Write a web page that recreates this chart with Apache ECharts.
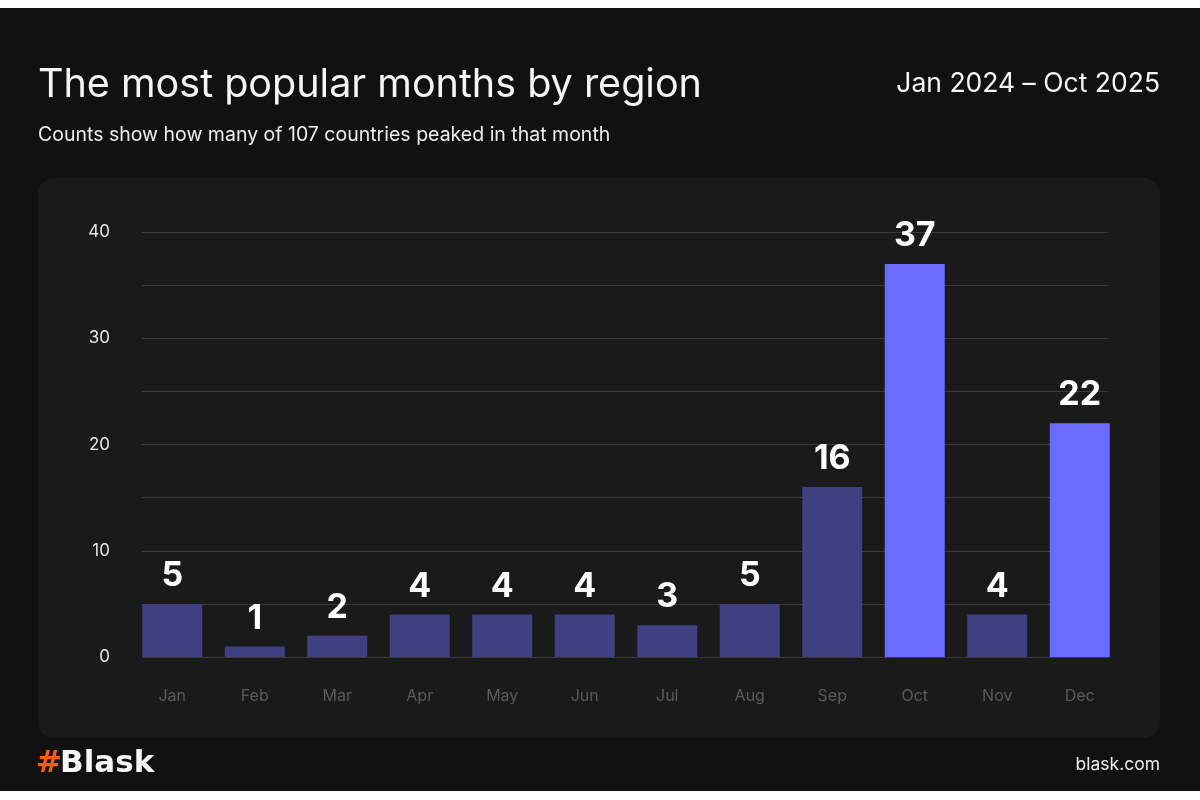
<!DOCTYPE html>
<html><head><meta charset="utf-8">
<script src="https://cdn.jsdelivr.net/npm/echarts@6/dist/echarts.min.js"></script>
<style>html,body{margin:0;padding:0;background:#fff;}#c{width:1200px;height:800px;}</style>
</head><body><div id="c"></div>
<script>
const months = ['Jan','Feb','Mar','Apr','May','Jun','Jul','Aug','Sep','Oct','Nov','Dec'];
const counts = [5,1,2,4,4,4,3,5,16,37,4,22];
const highlighted = ['Oct','Dec'];
const yTicks = [0,10,20,30,40];

const chart = echarts.init(document.getElementById('c'));
const font = 'Inter, "Noto Sans", sans-serif';
chart.setOption({
  backgroundColor: '#ffffff',
  textStyle: {fontFamily: font},
  graphic: [
    {type:'rect', z:-10, shape:{x:0,y:8,width:1200,height:783}, style:{fill:'#111111'}},
    {type:'rect', z:-9, shape:{x:38,y:178,width:1122,height:560,r:16}, style:{fill:'#1a1a1a'}},
    {type:'text', left:38, top:65, style:{text:'The most popular months by region', fill:'#f5f5f5', fontSize:39.5, fontFamily:font, letterSpacing:-0.4}},
    {type:'text', left:38, top:125, style:{text:'Counts show how many of 107 countries peaked in that month', fill:'#eeeeee', fontSize:19.5, fontFamily:font, letterSpacing:-0.2}},
    {type:'text', right:40, top:71, style:{text:'Jan 2024 – Oct 2025', fill:'#f5f5f5', fontSize:26.5, fontFamily:font, letterSpacing:-0.5, textAlign:'right'}},
    {type:'text', left:36, top:748, style:{text:'#', fill:'#ff5c0a', fontSize:31, fontWeight:'bold', fontFamily:'"DejaVu Sans", sans-serif'}},
    {type:'text', left:60, top:748, style:{text:'Blask', fill:'#f5f5f5', fontSize:31, fontWeight:'bold', fontFamily:'"DejaVu Sans", sans-serif', letterSpacing:0.5}},
    {type:'text', right:40, top:756, style:{text:'blask.com', fill:'#eeeeee', fontSize:17.5, fontFamily:font, textAlign:'right'}}
  ],
  grid: [
    {left:131, right:79, top:232, bottom:143},
    {left:142, right:92, top:232, bottom:143}
  ],
  xAxis: [
    {type:'category', data: months, gridIndex:0,
     axisLine:{show:false}, axisTick:{show:false},
     axisLabel:{color:'#5a5a5a', fontSize:16, margin:31, fontFamily:font}},
    {type:'value', gridIndex:1, min:0, max:1, show:false}
  ],
  yAxis: [
    {type:'value', gridIndex:0, min:0, max:40, interval:5, show:false},
    {type:'value', gridIndex:1, min:0, max:40, interval:5,
     axisLine:{show:false}, axisTick:{show:false},
     splitLine:{lineStyle:{color:'#3a3a3a', width:1}},
     axisLabel:{color:'#e6e6e6', fontSize:17, margin:32, fontFamily:font,
       formatter: v => yTicks.includes(v) ? String(v) : ''}}
  ],
  series: [{
    type:'bar', xAxisIndex:0, yAxisIndex:0, barWidth:60,
    data: counts.map((v,i)=>({value:v, itemStyle:{color: highlighted.includes(months[i]) ? '#6b6bff' : '#403f82'}})),
    label:{show:true, position:'top', distance:11, color:'#ffffff', fontSize:34, fontWeight:'bold', fontFamily:font},
    z:5
  }]
});
</script></body></html>
